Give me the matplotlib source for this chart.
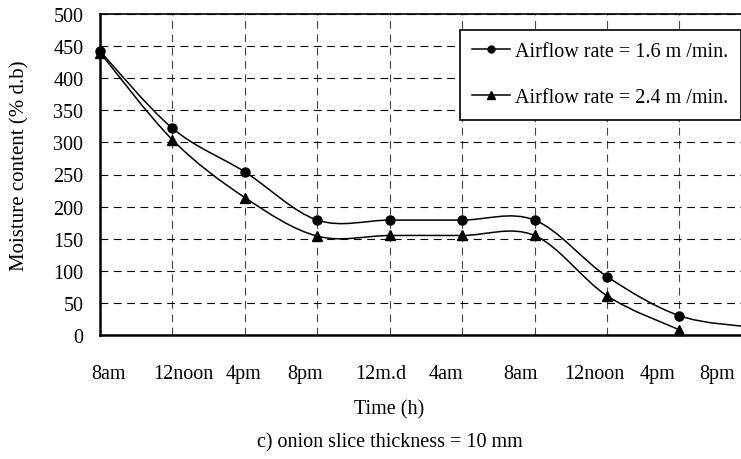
import matplotlib
matplotlib.use("Agg")
import matplotlib.pyplot as plt
from matplotlib.path import Path
from matplotlib.patches import PathPatch
from matplotlib.lines import Line2D

plt.rcParams['font.family'] = ['Liberation Serif', 'DejaVu Serif']

# ---- data ----
hours = [0, 4, 8, 12, 16, 20, 24, 28, 32, 36]
moisture_16 = [442, 322, 254, 179, 179, 179, 179, 91, 30, 12]
hours_24 = [0, 4, 8, 12, 16, 20, 24, 28, 32]
moisture_24 = [440, 304, 214, 154, 155, 155, 155, 61, 8]
tick_labels = ['8am', '12noon', '4pm', '8pm', '12m.d', '4am', '8am', '12noon', '4pm', '8pm']
tick_label_pos = [0.45, 4.6, 7.9, 11.3, 15.5, 19.1, 23.2, 27.3, 30.8, 34.1]
grid_hours = [4, 8, 12, 16, 20, 24, 28, 32]
y_ticks = [0, 50, 100, 150, 200, 250, 300, 350, 400, 450, 500]
series_labels = ['Airflow rate = 1.6 m /min.', 'Airflow rate = 2.4 m /min.']

FS = 14.5


def smooth_path(x, y):
    """Excel-style smoothed line: cubic Bezier segments (Catmull-Rom control points)."""
    n = len(x)
    verts = [(x[0], y[0])]
    codes = [Path.MOVETO]
    for i in range(n - 1):
        xp, yp = (x[i - 1], y[i - 1]) if i > 0 else (x[i], y[i])
        xn, yn = (x[i + 2], y[i + 2]) if i + 2 < n else (x[i + 1], y[i + 1])
        c1 = (x[i] + (x[i + 1] - xp) / 6.0, y[i] + (y[i + 1] - yp) / 6.0)
        c2 = (x[i + 1] - (xn - x[i]) / 6.0, y[i + 1] - (yn - y[i]) / 6.0)
        verts += [c1, c2, (x[i + 1], y[i + 1])]
        codes += [Path.CURVE4] * 3
    return Path(verts, codes)


fig = plt.figure(figsize=(7.41, 4.60), dpi=100)
ax = fig.add_axes([100 / 741, 1 - 336 / 460, 1 - 100 / 741, (336 - 15) / 460])

ax.set_xlim(0, 35.4)
ax.set_ylim(0, 500)

# grid
ax.set_yticks(y_ticks)
ax.set_xticks(tick_label_pos)
ax.set_xticklabels(tick_labels)
ax.set_xticks(grid_hours, minor=True)
ax.grid(which='major', axis='y', color='black', linestyle=(0, (7, 5)), linewidth=0.8)
ax.grid(which='minor', axis='x', color='#444444', linestyle=(0, (7, 5)), linewidth=0.8)
ax.tick_params(which='both', length=0)
ax.tick_params(axis='y', pad=12, labelsize=FS)
ax.tick_params(axis='x', pad=21, labelsize=FS)

for s in ['left', 'bottom']:
    ax.spines[s].set_linewidth(1.8)
ax.spines['top'].set_linewidth(1.2)
ax.spines['right'].set_visible(False)

# curves
for xs, ys in [(hours, moisture_16), (hours_24, moisture_24)]:
    p = PathPatch(smooth_path(xs, ys), facecolor='none', edgecolor='black',
                  linewidth=1.1, transform=ax.transData, zorder=3)
    ax.add_patch(p)

ax.plot(hours, moisture_16, linestyle='none', marker='o', markersize=6.5,
        color='black', clip_on=False, zorder=4)
ax.plot(hours_24, moisture_24, linestyle='none', marker='^', markersize=7.5,
        color='black', clip_on=False, zorder=4)

handles = [Line2D([], [], color='black', lw=1.1, marker='o', markersize=5),
           Line2D([], [], color='black', lw=1.1, marker='^', markersize=6)]
leg = fig.legend(handles, series_labels, loc='upper left',
                 bbox_to_anchor=(460 / 741, 1 - 31 / 460), fontsize=FS,
                 frameon=True, fancybox=False, shadow=False, framealpha=1,
                 edgecolor='black', handlelength=1.9, handletextpad=0.25,
                 labelspacing=1.35, borderpad=0.6, borderaxespad=0)
leg.get_frame().set_linewidth(1.2)

fig.text(20 / 741, 1 - 166 / 460, 'Moisture content (% d.b)', rotation=90,
         ha='center', va='center', fontsize=15)
fig.text(389 / 741, 1 - 410 / 460, 'Time (h)', ha='center', va='center', fontsize=FS)
fig.text(390 / 741, 1 - 443 / 460, 'c) onion slice thickness = 10 mm',
         ha='center', va='center', fontsize=FS)

fig.savefig('out.png', dpi=100)
